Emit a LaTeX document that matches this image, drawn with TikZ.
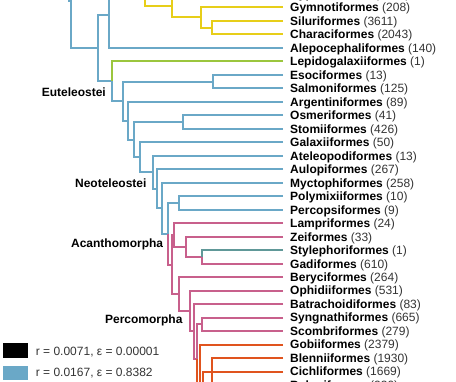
\documentclass[tikz,border=0pt]{standalone}
\usepackage{fontspec}
\setmainfont{Liberation Sans}
\definecolor{cblue}{RGB}{106,168,199}
\definecolor{cyel}{RGB}{231,206,25}
\definecolor{cgreen}{RGB}{155,198,62}
\definecolor{cpink}{RGB}{200,96,140}
\definecolor{cteal}{RGB}{96,152,152}
\definecolor{corange}{RGB}{224,84,30}
\definecolor{ctext}{RGB}{51,51,51}
\begin{document}
\begin{tikzpicture}[x=1pt,y=-1pt,
  br/.style={line width=2pt,line join=miter},
  leaflbl/.style={anchor=base west,inner sep=0pt,font=\fontsize{12}{12}\selectfont},
  cladelbl/.style={anchor=base east,inner sep=0pt,font=\fontsize{12}{12}\selectfont\bfseries},
  leglbl/.style={anchor=base west,inner sep=0pt,text=ctext,font=\fontsize{12}{12}\selectfont}]
\useasboundingbox (0,0) rectangle (456,382);
\clip (0,0) rectangle (456,382);
% leaves
\foreach \i/\n/\c in {-1/Cypriniformes/4205,0/Gymnotiformes/208,1/Siluriformes/3611,2/Characiformes/2043,
  3/Alepocephaliformes/140,4/Lepidogalaxiiformes/1,5/Esociformes/13,6/Salmoniformes/125,
  7/Argentiniformes/89,8/Osmeriformes/41,9/Stomiiformes/426,10/Galaxiiformes/50,
  11/Ateleopodiformes/13,12/Aulopiformes/267,13/Myctophiformes/258,14/Polymixiiformes/10,
  15/Percopsiformes/9,16/Lampriformes/24,17/Zeiformes/33,18/Stylephoriformes/1,
  19/Gadiformes/610,20/Beryciformes/264,21/Ophidiiformes/531,22/Batrachoidiformes/83,
  23/Syngnathiformes/665,24/Scombriformes/279,25/Gobiiformes/2379,26/Blenniiformes/1930,
  27/Cichliformes/1669,28/Beloniformes/230}{
  \node[leaflbl] (t\i) at (290,{7.4+13.49*\i+4.3}) {\textbf{\n} \textcolor{ctext}{(\c)}};
}
% otomorpha / stem
\draw[br,cblue] (68.5,-20) -- (68.5,1) -- (71.5,1);
\draw[br,cblue] (200,-46) -- (71,-46) -- (71,48.1) -- (98,48.1);
\draw[br,cblue] (109,14.9) -- (98,14.9) -- (98,81.3) -- (112.3,81.3);
\draw[br,cblue] (150,-18) -- (109,-18) -- (109,47.87) -- (283,47.87);
% yellow
\draw[br,cyel] (145,-30) -- (145,5.7) -- (172,5.7);
\draw[br,cyel] (283,-6.1) -- (172,-6.1) -- (172,17.5) -- (201,17.5);
\draw[br,cyel] (283,7.4) -- (201,7.4) -- (201,27.65) -- (212,27.65);
\draw[br,cyel] (283,20.89) -- (212,20.89) -- (212,34.38) -- (283,34.38);
% euteleostei
\draw[br,cgreen] (283,61.36) -- (112.3,61.36) -- (112.3,81.3);
\draw[br,cblue] (112.3,81.3) -- (112.3,101.2) -- (123,101.2);
\draw[br,cblue] (213,81.6) -- (123,81.6) -- (123,120.8) -- (128.3,120.8);
\draw[br,cblue] (283,74.85) -- (213,74.85) -- (213,88.34) -- (283,88.34);
\draw[br,cblue] (283,101.83) -- (128.3,101.83) -- (128.3,139.7) -- (134.3,139.7);
\draw[br,cblue] (182.7,122.07) -- (134.3,122.07) -- (134.3,157.3) -- (140,157.3);
\draw[br,cblue] (283,115.32) -- (182.7,115.32) -- (182.7,128.81) -- (283,128.81);
\draw[br,cblue] (283,142.3) -- (140,142.3) -- (140,172.3) -- (152.7,172.3);
\draw[br,cblue] (283,155.79) -- (152.7,155.79) -- (152.7,188.8) -- (156.7,188.8);
\draw[br,cblue] (283,169.28) -- (156.7,169.28) -- (156.7,208.3) -- (162.3,208.3);
\draw[br,cblue] (283,182.77) -- (162.3,182.77) -- (162.3,233.8) -- (168.3,233.8);
\draw[br,cblue] (179,203) -- (168.3,203) -- (168.3,233.8);
\draw[br,cblue] (283,196.26) -- (179,196.26) -- (179,209.75) -- (283,209.75);
% acanthopterygii
\draw[br,cpink] (168.3,233.8) -- (168.3,264.6) -- (171.5,264.6);
\draw[br,cpink] (174,235.05) -- (171.5,235.05) -- (171.5,294.15) -- (179.3,294.15);
\draw[br,cpink] (283,223.24) -- (174,223.24) -- (174,246.85) -- (186,246.85);
\draw[br,cpink] (283,236.73) -- (186,236.73) -- (186,256.97) -- (201.7,256.97);
\draw[br,cteal] (283,250.22) -- (201.7,250.22) -- (201.7,256.97);
\draw[br,cpink] (201.7,256.97) -- (201.7,263.71) -- (283,263.71);
\draw[br,cpink] (283,277.2) -- (179.3,277.2) -- (179.3,311.1) -- (190,311.1);
\draw[br,cpink] (283,290.69) -- (190,290.69) -- (190,331.5) -- (194,331.5);
\draw[br,cpink] (283,304.18) -- (194,304.18) -- (194,358.8) -- (197,358.8);
\draw[br,cpink] (201.7,324.4) -- (197,324.4) -- (197,358.8);
\draw[br,cpink] (283,317.67) -- (201.7,317.67) -- (201.7,331.16) -- (283,331.16);
\draw[br,corange] (197,358.8) -- (197,393) -- (199.5,393);
\draw[br,corange] (283,344.65) -- (199.5,344.65) -- (199.5,441);
\draw[br,corange] (283,358.14) -- (211.7,358.14) -- (211.7,420);
\draw[br,corange] (283,371.63) -- (203.3,371.63) -- (203.3,420);
\draw[br,corange] (283,385.12) -- (206,385.12);
% clade labels
\node[cladelbl] (euteleostei) at (106,96.6) {Euteleostei};
\node[cladelbl] (neoteleostei) at (146.7,187.3) {Neoteleostei};
\node[cladelbl] (acanthomorpha) at (163.3,247.8) {Acanthomorpha};
\node[cladelbl] (percomorpha) at (182.7,324) {Percomorpha};
% legend
\fill[black] (3.3,343.3) rectangle (28.4,357.6);
\fill[cblue] (3.3,366) rectangle (28.4,380);
\node[leglbl] (leg1) at (35.7,356) {r = 0.0071, ε = 0.00001};
\node[leglbl] (leg2) at (35.7,376.7) {r = 0.0167, ε = 0.8382};
\end{tikzpicture}
\end{document}
